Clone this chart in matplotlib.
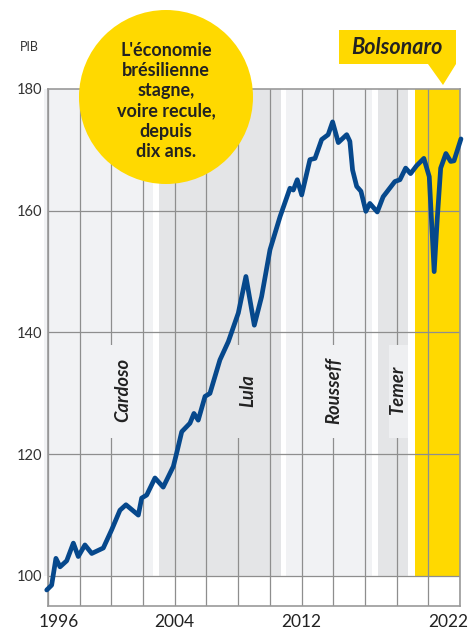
import matplotlib
matplotlib.use("Agg")
import matplotlib.pyplot as plt
from matplotlib.patches import Ellipse, Polygon, Rectangle
from matplotlib.transforms import ScaledTranslation

plt.rcParams['font.family'] = ['Lato', 'DejaVu Sans']

# ---- data ----
years = [1995.92, 1996.23, 1996.50, 1996.76, 1997.18, 1997.60, 1997.91, 1998.33, 1998.76,
         1999.49, 2000.02, 2000.54, 2000.92, 2001.70, 2001.91, 2002.23, 2002.75, 2003.27,
         2003.91, 2004.12, 2004.44, 2004.96, 2005.21, 2005.48, 2005.91, 2006.22, 2006.85,
         2007.38, 2008.01, 2008.49, 2009.02, 2009.48, 2010.01, 2010.64, 2011.27, 2011.48,
         2011.73, 2012.01, 2012.53, 2012.85, 2013.27, 2013.68, 2013.96, 2014.32, 2014.85,
         2015.05, 2015.22, 2015.48, 2015.75, 2016.06, 2016.31, 2016.78, 2017.15, 2017.89,
         2018.21, 2018.57, 2018.88, 2019.26, 2019.72, 2020.06, 2020.37, 2020.56, 2020.78,
         2021.11, 2021.41, 2021.62, 2022.06]
gdp = [97.7, 98.5, 102.9, 101.5, 102.5, 105.4, 103.2, 105.1, 103.7,
       104.6, 107.6, 110.8, 111.7, 110.0, 112.8, 113.3, 116.1, 114.6,
       118.0, 120.2, 123.7, 125.1, 126.7, 125.6, 129.5, 130.0, 135.5,
       138.5, 143.2, 149.2, 141.2, 145.9, 153.6, 159.0, 163.7, 163.4,
       165.1, 162.6, 168.4, 168.6, 171.7, 172.5, 174.6, 171.2, 172.5,
       171.4, 166.7, 164.0, 163.2, 159.9, 161.2, 159.8, 162.3, 164.8,
       165.1, 167.0, 166.1, 167.4, 168.6, 165.6, 150.0, 158.5, 167.0,
       169.4, 168.1, 168.2, 171.8]

presidents = ["Cardoso", "Lula", "Rousseff", "Temer", "Bolsonaro"]
term_start = [1995.75, 2003.0, 2011.0, 2016.8, 2019.15]
term_end = [2002.62, 2010.69, 2016.43, 2018.74, 2022.0]
label_x = [2000.7, 2008.59, 2014.04, 2018.05]
label_grid = [2000, 2008, 2014, 2018]

y_ticks = [100, 120, 140, 160, 180]
x_grid = list(range(1996, 2023, 2))
x_labels = {1996: "1996", 2004: "2004", 2012: "2012", 2022: "2022"}

title_text = "L'économie\nbrésilienne\nstagne,\nvoire recule,\ndepuis\ndix ans."

# ---- style ----
light = "#f1f2f4"
dark = "#e4e5e7"
yellow = "#ffd900"
grid_c = "#8e8e8e"
line_c = "#06488c"
txt_c = "#222222"
band_colors = [light, dark, light, dark, yellow]
box_colors = [light, dark, light, "#eeeff1"]

W, H = 471, 631
fig = plt.figure(figsize=(W / 100, H / 100), dpi=100)
ax = fig.add_axes([48 / W, 1 - 606 / H, 412 / W, 517 / H])
ax.set_xlim(1996, 2022)
ax.set_ylim(95.07, 180)

for s, e, c in zip(term_start, term_end, band_colors):
    ax.add_patch(Rectangle((s, 100), e - s, 80, facecolor=c, edgecolor="none",
                           zorder=0, clip_on=False))

for x in x_grid:
    ax.axvline(x, color=grid_c, lw=0.9, zorder=1)
for y in y_ticks[:-1]:
    ax.axhline(y, color=grid_c, lw=0.9, zorder=1)

for name, lx, g, bc in zip(presidents[:4], label_x, label_grid, box_colors):
    if name == "Temer":
        x0, w = g - 0.5, 1.24
    else:
        x0, w = g - 0.6, 1.2
    ax.add_patch(Rectangle((x0, 122.7), w, 15.3, facecolor=bc, edgecolor="none", zorder=2))
    ax.text(lx, 130.5, name, rotation=90, ha="center", va="center", fontsize=13.2,
            fontweight="bold", fontstyle="italic", color=txt_c, zorder=3)

ax.plot(years, gdp, color=line_c, lw=3.4, solid_joinstyle="round",
        solid_capstyle="round", clip_on=False, zorder=5)

for sp in ["top", "right", "bottom", "left"]:
    ax.spines[sp].set_color("#999999")
    ax.spines[sp].set_linewidth(1.2)
    ax.spines[sp].set_zorder(4)

ax.set_yticks(y_ticks)
ax.set_yticklabels([str(v) for v in y_ticks])
ax.set_xticks(x_grid)
ax.set_xticklabels([x_labels.get(x, "") for x in x_grid])
ax.tick_params(axis="y", length=0, pad=4.3, labelsize=10.5, labelcolor="#333333")
ax.tick_params(axis="x", length=0, pad=5.5, labelsize=12.5, labelcolor=txt_c)
for lab in ax.get_xticklabels():
    if lab.get_text() == "1996":
        lab.set_transform(lab.get_transform() + ScaledTranslation(11 / 100, 0, fig.dpi_scale_trans))
    elif lab.get_text() == "2022":
        lab.set_transform(lab.get_transform() + ScaledTranslation(-12 / 100, 0, fig.dpi_scale_trans))

fig.text(20 / W, 1 - 47 / H, "PIB", fontsize=9, ha="left", va="center", color="#333333")

# yellow circle with message
fig.add_artist(Ellipse((166 / W, 1 - 97 / H), 174 / W, 174 / H, facecolor=yellow,
                       edgecolor="none", transform=fig.transFigure, zorder=6))
fig.text(166 / W, 1 - 101 / H, title_text, ha="center", va="center", fontsize=13,
         fontweight="bold", color=txt_c, linespacing=1.22, zorder=7)

# Bolsonaro callout
fig.add_artist(Polygon([(339 / W, 1 - 30 / H), (456 / W, 1 - 30 / H), (456 / W, 1 - 64 / H),
                        (443 / W, 1 - 85 / H), (428 / W, 1 - 64 / H), (339 / W, 1 - 64 / H)],
                       closed=True, facecolor=yellow, edgecolor="none",
                       transform=fig.transFigure, zorder=6))
fig.text(397 / W, 1 - 47 / H, presidents[4], ha="center", va="center", fontsize=15.5,
         fontweight="bold", fontstyle="italic", color=txt_c, zorder=7)

fig.savefig("out.png", dpi=100)
